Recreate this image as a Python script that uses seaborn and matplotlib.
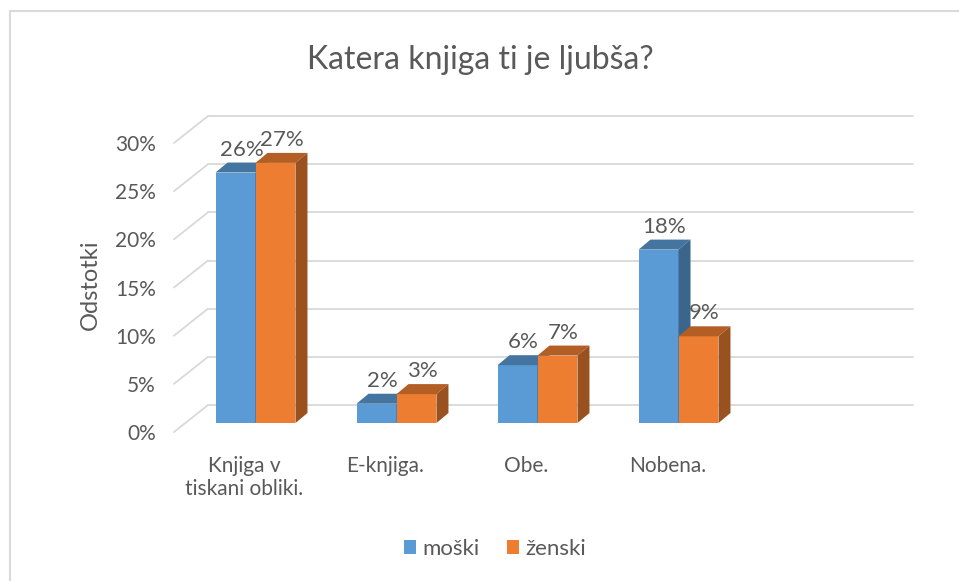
import numpy as np
import pandas as pd
import matplotlib.pyplot as plt
import seaborn as sns
from matplotlib.transforms import ScaledTranslation
from matplotlib.patches import Polygon
from matplotlib.lines import Line2D
from matplotlib.colors import to_rgb

# data
categories = ["Knjiga v\ntiskani obliki.", "E-knjiga.", "Obe.", "Nobena."]
moski = [26, 2, 6, 18]
zenski = [27, 3, 7, 9]
series = ["moški", "ženski"]
colors = ["#5B9BD5", "#ED7D31"]
yticks = [0, 5, 10, 15, 20, 25, 30]

df = pd.DataFrame({
    "Kategorija": categories * 2,
    "Odstotki": moski + zenski,
    "Spol": [series[0]] * len(moski) + [series[1]] * len(zenski),
})

# canvas
W, H, DPI = 959, 581, 100
sns.set_style("white")
plt.rcParams['font.family'] = ['Lato', 'DejaVu Sans']
text_col = '#595959'
grid_col = '#D9D9D9'

fig = plt.figure(figsize=(W / DPI, H / DPI), dpi=DPI)
# front plane of the 3D box, in pixels: x 174..879, y 432 (0%) .. 143 (30%)
ax_l, ax_r, ax_b, ax_t = 174, 879, 432, 143
ax = fig.add_axes([ax_l / W, 1 - ax_b / H, (ax_r - ax_l) / W, (ax_b - ax_t) / H])

sns.barplot(data=df, x="Kategorija", y="Odstotki", hue="Spol", palette=colors,
            width=0.567, gap=0, saturation=1, linewidth=0, edgecolor='none', ax=ax)

n_slots = 5  # excel left an empty fifth slot
ax.set_xlim(-0.5, n_slots - 0.5)
ax.set_ylim(0, 30)
ux = (ax_r - ax_l) / n_slots  # px per category
uy = (ax_b - ax_t) / 30       # px per percent


def shifted(dx, dy):
    return ax.transData + ScaledTranslation(dx / DPI, dy / DPI, fig.dpi_scale_trans)


def shade(c, f):
    return tuple(v * f for v in to_rgb(c))


# back wall + left wall gridlines
wall_dx, wall_dy = 34, 27
back = shifted(wall_dx, wall_dy)
for t in yticks:
    ax.plot([-0.5, n_slots - 0.5], [t, t], transform=back, color=grid_col,
            lw=1.3, clip_on=False, zorder=0)
    ax.plot([-0.5, -0.5 + wall_dx / ux], [t, t + wall_dy / uy], color=grid_col,
            lw=1.3, clip_on=False, zorder=0)

# 3D bars: shift front faces into the box, add top and side faces
bar_off = shifted(11, 9)
ddx, ddy = 12 / ux, 10 / uy
for i, cont in enumerate(ax.containers):
    col = colors[i]
    for p in cont:
        x0, w, h = p.get_x(), p.get_width(), p.get_height()
        p.set_transform(bar_off)
        p.set_zorder(2 + i)
        p.set_clip_on(False)
        top = Polygon([(x0, h), (x0 + w, h), (x0 + w + ddx, h + ddy), (x0 + ddx, h + ddy)],
                      closed=True, transform=bar_off, facecolor=shade(col, 0.75),
                      edgecolor='none', zorder=2 + i, clip_on=False)
        side = Polygon([(x0 + w, 0), (x0 + w, h), (x0 + w + ddx, h + ddy), (x0 + w + ddx, ddy)],
                       closed=True, transform=bar_off, facecolor=shade(col, 0.65),
                       edgecolor='none', zorder=2 + i, clip_on=False)
        ax.add_patch(top)
        ax.add_patch(side)
        ax.text(x0 + w / 2 + ddx / 2, h + ddy, f"{h:.0f}%",
                transform=bar_off + ScaledTranslation(0, 3 / DPI, fig.dpi_scale_trans),
                ha='center', va='bottom', fontsize=16, color=text_col, zorder=5)

# axes styling
sns.despine(ax=ax, left=True, bottom=True)
ax.set_yticks(yticks)
ax.set_yticklabels([f"{t}%" for t in yticks])
ax.set_xticks(range(len(categories)))
ax.set_xticklabels(categories)
ax.tick_params(axis='y', length=0, pad=13, labelsize=15, labelcolor=text_col)
ax.tick_params(axis='x', length=0, pad=17, labelsize=15, labelcolor=text_col)
ax.set_xlabel("")
ax.set_ylabel("Odstotki", fontsize=17, color=text_col)
ax.yaxis.set_label_coords((101 - ax_l) / (ax_r - ax_l), (ax_b - 285) / (ax_b - ax_t))

fig.text(480 / W, 1 - 60 / H, "Katera knjiga ti je ljubša?", ha='center', va='center',
         fontsize=23, color=text_col)

handles, labels = ax.get_legend_handles_labels()
ax.legend_.remove()
fig.legend(handles, labels, loc='center', bbox_to_anchor=(495 / W, 1 - 549 / H), ncol=2,
           frameon=False, handlelength=0.55, handleheight=0.55, handletextpad=0.3,
           columnspacing=1.2, fontsize=16, labelcolor=text_col)

# chart frame (only left and top edges are in the screenshot)
fig.add_artist(Line2D([10 / W, 10 / W, 1], [0, 1 - 11 / H, 1 - 11 / H], color=grid_col, lw=1.5))

fig.savefig("out.png", dpi=DPI)
